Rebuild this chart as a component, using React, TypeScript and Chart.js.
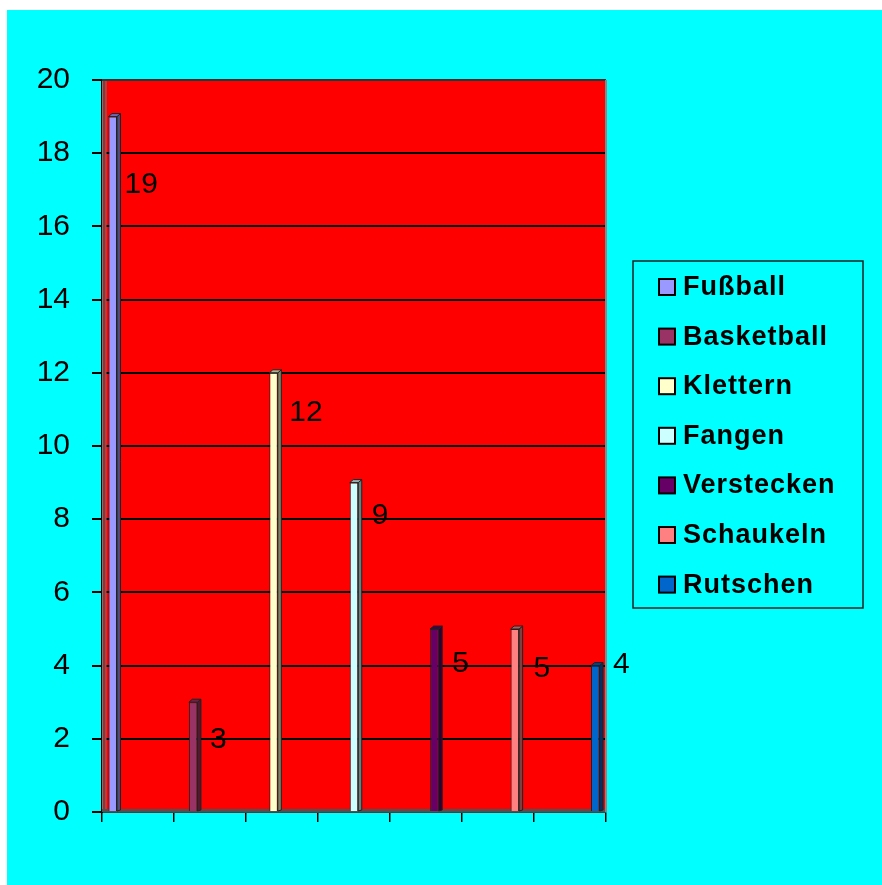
import React, { useEffect, useRef } from "react";
import { Chart, registerables } from "chart.js";

Chart.register(...registerables);

// ---- data ----
const CATEGORIES = ["Fußball", "Basketball", "Klettern", "Fangen", "Verstecken", "Schaukeln", "Rutschen"];
const VALUES = [19, 3, 12, 9, 5, 5, 4];
const COLORS = ["#9999FF", "#993366", "#FFFFCC", "#CCFFFF", "#660066", "#FF8080", "#0066CC"];
const Y_MIN = 0;
const Y_MAX = 20;
const Y_STEP = 2;
// nudge of each value label relative to its bar top-right corner (px)
const LABEL_DX = [4, 9, 8, 10, 10, 11, 10];
const LABEL_DY = [68, 38, 40, 33, 35, 40, -1];

const FONT = '"Liberation Sans", Arial, Helvetica, sans-serif';

function darken(hex: string, f: number): string {
  const n = parseInt(hex.slice(1), 16);
  const r = Math.round(((n >> 16) & 255) * f);
  const g = Math.round(((n >> 8) & 255) * f);
  const b = Math.round((n & 255) * f);
  return `rgb(${r},${g},${b})`;
}

const DEPTH_X = 3.5;
const DEPTH_Y = 3;

const plot3d = {
  id: "plot3d",
  beforeDraw(chart: any) {
    const { ctx, chartArea: a } = chart;
    ctx.save();
    ctx.fillStyle = "#FF0000";
    ctx.fillRect(a.left, a.top, a.right - a.left, a.bottom - a.top);
    ctx.restore();
  },
  beforeDatasetsDraw(chart: any) {
    const { ctx, chartArea: a } = chart;
    ctx.save();
    // left side wall
    ctx.fillStyle = "#A52A2A";
    ctx.fillRect(a.left, a.top, 4, a.bottom - a.top);
    ctx.strokeStyle = "#777";
    ctx.lineWidth = 1;
    ctx.strokeRect(a.left + 0.5, a.top + 0.5, 3.5, a.bottom - a.top - 1);
    // floor
    ctx.fillStyle = "#505050";
    ctx.fillRect(a.left, a.bottom - 3, a.right - a.left, 3);
    // top edge
    ctx.fillStyle = "#333";
    ctx.fillRect(a.left, a.top - 1, a.right - a.left, 2);
    // right edge
    ctx.fillStyle = "#888";
    ctx.fillRect(a.right - 1, a.top, 2, a.bottom - a.top);
    ctx.restore();
  },
  afterDatasetsDraw(chart: any) {
    const { ctx } = chart;
    ctx.save();
    chart.data.datasets.forEach((ds: any, i: number) => {
      const meta = chart.getDatasetMeta(i);
      const el = meta.data[0];
      if (!el) return;
      const { x, y, base, width } = el.getProps(["x", "y", "base", "width"], true);
      const xl = x - width / 2;
      const xr = x + width / 2;
      const col = ds.backgroundColor as string;
      ctx.lineWidth = 1;
      ctx.strokeStyle = "#222";
      // side face
      ctx.beginPath();
      ctx.moveTo(xr, y);
      ctx.lineTo(xr + DEPTH_X, y - DEPTH_Y);
      ctx.lineTo(xr + DEPTH_X, base - 1);
      ctx.lineTo(xr, base);
      ctx.closePath();
      ctx.fillStyle = darken(col, 0.5);
      ctx.fill();
      ctx.stroke();
      // top face
      ctx.beginPath();
      ctx.moveTo(xl, y);
      ctx.lineTo(xl + DEPTH_X, y - DEPTH_Y);
      ctx.lineTo(xr + DEPTH_X, y - DEPTH_Y);
      ctx.lineTo(xr, y);
      ctx.closePath();
      ctx.fillStyle = darken(col, 0.7);
      ctx.fill();
      ctx.stroke();
      // value label
      ctx.fillStyle = "#000";
      ctx.font = `30px ${FONT}`;
      ctx.textAlign = "left";
      ctx.textBaseline = "middle";
      ctx.fillText(String(ds.data[0]), xr + DEPTH_X + LABEL_DX[i], y + LABEL_DY[i]);
    });
    ctx.restore();
  },
  afterDraw(chart: any) {
    // legend box
    const { ctx } = chart;
    ctx.save();
    const bx = 626, by = 251, bw = 230, bh = 347;
    ctx.strokeStyle = "#222";
    ctx.lineWidth = 1.5;
    ctx.strokeRect(bx, by, bw, bh);
    ctx.font = `bold 27px ${FONT}`;
    (ctx as any).letterSpacing = "1px";
    ctx.textAlign = "left";
    ctx.textBaseline = "alphabetic";
    chart.data.datasets.forEach((ds: any, i: number) => {
      const cy = 277 + i * 49.6;
      ctx.fillStyle = ds.backgroundColor;
      ctx.fillRect(652, cy - 8, 16, 16);
      ctx.strokeStyle = "#000";
      ctx.lineWidth = 2;
      ctx.strokeRect(652, cy - 8, 16, 16);
      ctx.fillStyle = "#000";
      ctx.fillText(ds.label, 676, 285 + i * 49.6);
    });
    ctx.restore();
  },
};

export default function App() {
  const ref = useRef<HTMLCanvasElement | null>(null);
  useEffect(() => {
    if (!ref.current) return;
    Chart.defaults.font.family = FONT;
    const chart = new Chart(ref.current, {
      type: "bar",
      data: {
        labels: [""],
        datasets: CATEGORIES.map((name, i) => ({
          label: name,
          data: [VALUES[i]],
          backgroundColor: COLORS[i],
          borderColor: "#222",
          borderWidth: 1,
          categoryPercentage: 1.117,
          barPercentage: 0.106,
        })),
      },
      options: {
        animation: false,
        responsive: true,
        maintainAspectRatio: false,
        layout: { padding: { top: 70, right: 276, bottom: 63, left: 0 } },
        plugins: {
          legend: { display: false },
          tooltip: { enabled: false },
        },
        scales: {
          x: { type: "category", display: false },
          x2: {
            type: "category",
            position: "bottom",
            labels: CATEGORIES.map(() => ""),
            offset: true,
            grid: {
              offset: true,
              drawOnChartArea: false,
              drawTicks: true,
              tickLength: 10,
              color: "#000",
              lineWidth: 1.5,
            },
            ticks: { display: false },
            border: { display: true, color: "#444", width: 2 },
          },
          y: {
            min: Y_MIN,
            max: Y_MAX,
            ticks: { stepSize: Y_STEP, color: "#000", font: { size: 30 }, padding: 22 },
            grid: { color: "#000", lineWidth: 2, tickLength: 10 },
            border: { display: true, color: "#000", width: 2 },
            afterFit: (s: any) => {
              s.width = 95;
            },
          },
        },
      } as any,
      plugins: [plot3d],
    });
    return () => chart.destroy();
  }, []);
  return (
    <div
      style={{
        position: "absolute",
        left: 7,
        top: 10,
        width: 875,
        height: 875,
        background: "#00FFFF",
      }}
    >
      <canvas ref={ref} />
    </div>
  );
}
